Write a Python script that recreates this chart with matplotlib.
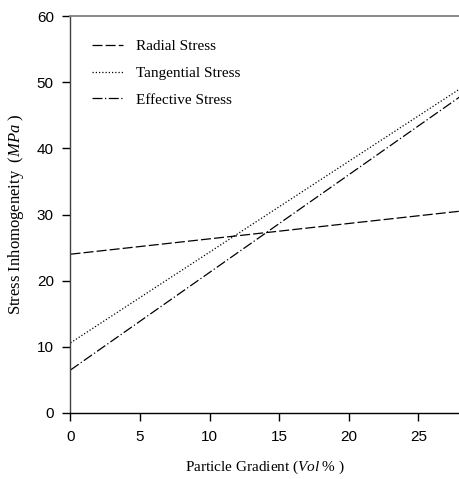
import matplotlib
matplotlib.use('Agg')
import matplotlib.pyplot as plt

# Values
gradient = [0, 28]
radial_stress = [24.0, 30.5]
tangential_stress = [10.6, 49.0]
effective_stress = [6.5, 47.8]

x_ticks = [0, 5, 10, 15, 20, 25]
y_ticks = [0, 10, 20, 30, 40, 50, 60]

plt.rcParams['mathtext.fontset'] = 'custom'
plt.rcParams['mathtext.it'] = 'Liberation Serif:italic'
plt.rcParams['mathtext.rm'] = 'Liberation Serif'

fig = plt.figure(figsize=(4.6, 4.79), dpi=100)
ax = fig.add_axes([70.5 / 460, 1 - 413 / 479, (460 - 70.5) / 460, (413 - 16) / 479])

lw = 0.9
ax.plot(gradient, radial_stress, color='black', lw=lw, dashes=(8, 2.5), label='Radial Stress')
ax.plot(gradient, tangential_stress, color='black', lw=lw, dashes=(1, 1.6), label='Tangential Stress')
ax.plot(gradient, effective_stress, color='black', lw=lw, dashes=(8, 2, 1, 2), label='Effective Stress')

ax.set_xlim(0, 28)
ax.set_ylim(0, 60)
ax.set_xticks(x_ticks)
ax.set_yticks(y_ticks)

ax.spines['right'].set_visible(False)
ax.spines['top'].set_color('#808080')
ax.spines['top'].set_linewidth(1.3)
ax.spines['left'].set_color('#404040')
ax.spines['bottom'].set_color('black')
ax.spines['left'].set_linewidth(1.0)
ax.spines['bottom'].set_linewidth(1.0)

ax.tick_params(direction='out', length=6, width=1, labelsize=11, pad=6)
for lab in ax.get_xticklabels() + ax.get_yticklabels():
    lab.set_family('Liberation Sans')

ax.set_xlabel(r'Particle Gradient ($Vol\;\%$ )', family='Liberation Serif', fontsize=11, labelpad=11)
ax.set_ylabel(r'Stress Inhomogeneity  ($MPa$ )', family='Liberation Serif', fontsize=12, labelpad=8)

leg = ax.legend(loc='upper left', bbox_to_anchor=(0.02, 0.975), frameon=False,
                prop={'family': 'Liberation Serif', 'size': 11},
                handlelength=2.0, handletextpad=0.9, labelspacing=0.85)

fig.savefig('out.png', dpi=100)
